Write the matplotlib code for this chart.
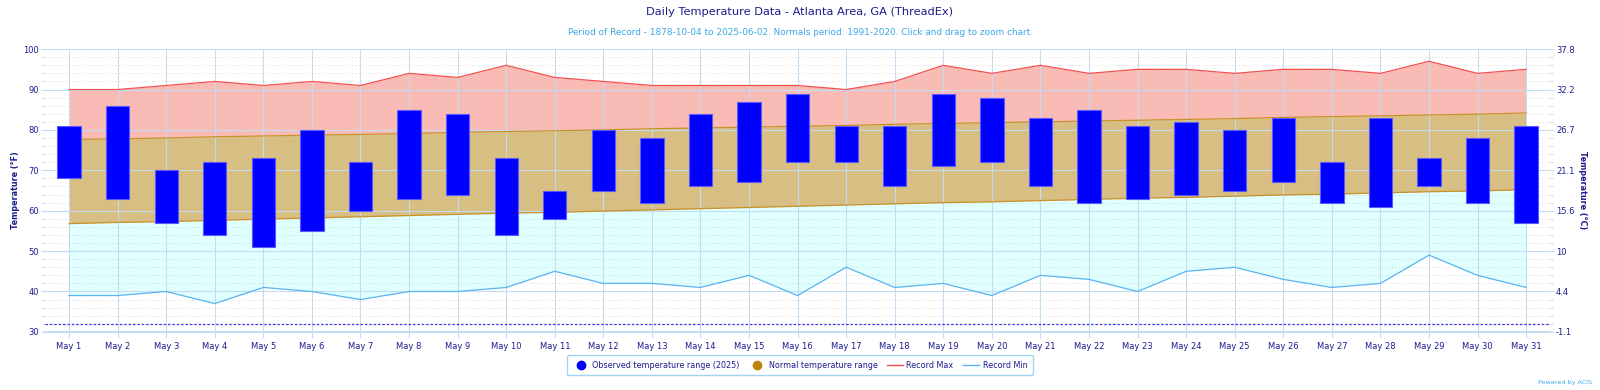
import numpy as np
import matplotlib.pyplot as plt
from matplotlib.lines import Line2D

# daily data, May 2025 (°F)
days = [f'May {d}' for d in range(1, 32)]
obs_high = [81, 86, 70, 72, 73, 80, 72, 85, 84, 73, 65, 80, 78, 84, 87, 89,
            81, 81, 89, 88, 83, 85, 81, 82, 80, 83, 72, 83, 73, 78, 81]
obs_low = [68, 63, 57, 54, 51, 55, 60, 63, 64, 54, 58, 65, 62, 66, 67, 72,
           72, 66, 71, 72, 66, 62, 63, 64, 65, 67, 62, 61, 66, 62, 57]
normal_max = [77.6, 77.8, 78.0, 78.3, 78.5, 78.7, 78.9, 79.1, 79.4, 79.6, 79.8,
              80.0, 80.3, 80.5, 80.7, 80.9, 81.1, 81.4, 81.6, 81.8, 82.0, 82.2,
              82.4, 82.6, 82.8, 83.1, 83.3, 83.5, 83.7, 83.9, 84.2]
normal_min = [56.8, 57.1, 57.3, 57.6, 57.9, 58.2, 58.5, 58.8, 59.1, 59.4, 59.6,
              59.9, 60.2, 60.5, 60.8, 61.1, 61.4, 61.7, 62.0, 62.2, 62.5, 62.8,
              63.1, 63.3, 63.6, 63.9, 64.1, 64.4, 64.7, 64.9, 65.2]
record_max = [90, 90, 91, 92, 91, 92, 91, 94, 93, 96, 93, 92, 91, 91, 91, 91,
              90, 92, 96, 94, 96, 94, 95, 95, 94, 95, 95, 94, 97, 94, 95]
record_min = [39, 39, 40, 37, 41, 40, 38, 40, 40, 41, 45, 42, 42, 41, 44, 39,
              46, 41, 42, 39, 44, 43, 40, 45, 46, 43, 41, 42, 49, 44, 41]
freezing = 32
f_ticks = [30, 40, 50, 60, 70, 80, 90, 100]

NAVY = '#1c1c8c'
GRID = '#c4dcf0'
FS = 6

x = np.arange(len(days))
hi = np.array(obs_high)
lo = np.array(obs_low)

fig = plt.figure(figsize=(16, 3.9), dpi=100)
ax = fig.add_axes([0.028, 0.149, 0.941, 0.725])

# record / normal bands
ax.fill_between(x, normal_max, record_max, color='#fbbbb5', lw=0)
ax.fill_between(x, normal_min, normal_max, color='#d8be80', lw=0)
ax.fill_between(x, record_min, normal_min, color='#e0ffff', lw=0)
ax.plot(x, record_max, color='#f45050', lw=0.9)
ax.plot(x, normal_max, color='#c8922a', lw=0.9)
ax.plot(x, normal_min, color='#c8922a', lw=0.9)
ax.plot(x, record_min, color='#5ab4f2', lw=0.9)
ax.axhline(freezing, color='#3a3af0', lw=0.9, ls=(0, (2, 1.5)))

# observed range bars
ax.bar(x, hi - lo, bottom=lo, width=0.48, color='#0000ff',
       edgecolor='#5a5aff', linewidth=0.8, zorder=3)

ax.set_xlim(-0.5, 30.5)
ax.set_ylim(30, 100)
ax.set_axisbelow('line')
ax.set_xticks(x)
ax.set_xticklabels(days)
ax.set_yticks(f_ticks)
ax.set_yticks(np.arange(30, 101, 2), minor=True)
ax.grid(True, which='major', color=GRID, lw=0.8)
ax.grid(True, which='minor', axis='y', color='#c8c8c8', lw=0.6, ls=(0, (1, 3)))
ax.tick_params(axis='x', colors=GRID, labelcolor=NAVY, labelsize=FS, length=4, pad=3)
ax.tick_params(axis='y', colors=GRID, labelcolor=NAVY, labelsize=FS, length=3, pad=1)
ax.tick_params(axis='y', which='minor', colors='#cccccc', length=2)
for s in ['left', 'right', 'top']:
    ax.spines[s].set_visible(False)
ax.spines['bottom'].set_color(GRID)
ax.spines['bottom'].set_linewidth(1.5)

# °C axis on the right
ax2 = ax.twinx()
ax2.set_ylim(30, 100)
ax2.set_yticks(f_ticks)
ax2.set_yticklabels(['{:g}'.format(round((f - 32) * 5 / 9, 1)) for f in f_ticks])
ax2.set_yticks(np.arange(30, 101, 2), minor=True)
ax2.tick_params(axis='y', colors=GRID, labelcolor=NAVY, labelsize=FS, length=3, pad=1)
ax2.tick_params(axis='y', which='minor', colors='#cccccc', length=2)
for s in ax2.spines.values():
    s.set_visible(False)

ymid = 0.149 + 0.725 / 2
fig.text(0.010, ymid, 'Temperature (°F)', rotation=90, ha='center', va='center',
         color=NAVY, fontsize=5.8, fontweight='bold')
fig.text(0.989, ymid, 'Temperature (°C)', rotation=270, ha='center', va='center',
         color=NAVY, fontsize=5.8, fontweight='bold')

fig.text(0.5, 0.969, 'Daily Temperature Data - Atlanta Area, GA (ThreadEx)',
         ha='center', va='center', color=NAVY, fontsize=8.2)
fig.text(0.5, 0.916, 'Period of Record - 1878-10-04 to 2025-06-02. Normals period: 1991-2020. '
         'Click and drag to zoom chart.', ha='center', va='center', color='#3aa8e8', fontsize=6.4)
fig.text(0.995, 0.012, 'Powered by ACIS', ha='right', va='bottom', color='#3aa8e8', fontsize=4.6)

handles = [
    Line2D([], [], marker='o', ls='none', color='#0000ff', markersize=6),
    Line2D([], [], marker='o', ls='none', color='#b8860b', markersize=6),
    Line2D([], [], color='#f45050', lw=1),
    Line2D([], [], color='#5ab4f2', lw=1),
]
labels = ['Observed temperature range (2025)', 'Normal temperature range', 'Record Max', 'Record Min']
leg = fig.legend(handles, labels, loc='center', bbox_to_anchor=(0.5, 0.064), ncol=4,
                 fontsize=5.8, frameon=True, handlelength=2.0, columnspacing=1.2,
                 handletextpad=0.4, borderpad=0.7, borderaxespad=0, fancybox=True)
leg.get_frame().set_edgecolor('#8cc8f0')
leg.get_frame().set_linewidth(1)
for t in leg.get_texts():
    t.set_color(NAVY)

fig.savefig('out.png', dpi=100)
